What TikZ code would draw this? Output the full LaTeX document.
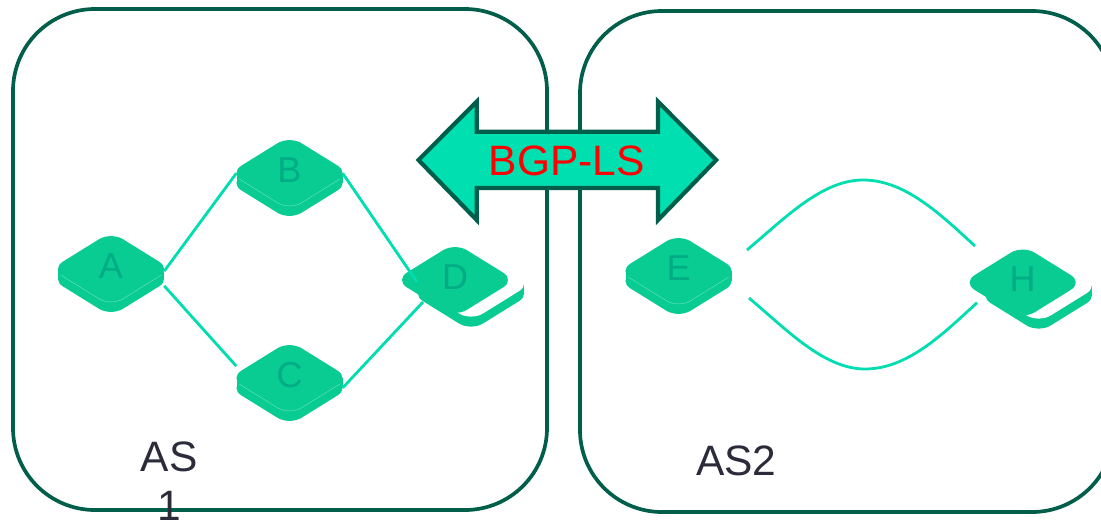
\documentclass[tikz,border=0pt]{standalone}
\usepackage{fontspec}
\setmainfont{Liberation Sans}
\definecolor{boxgreen}{HTML}{005E4B}
\definecolor{arrowgreen}{HTML}{00DFB0}
\definecolor{facegreen}{HTML}{08CC92}
\definecolor{linkgreen}{HTML}{00DDB0}
\definecolor{lettergreen}{HTML}{00AC85}
\definecolor{edgegreen}{HTML}{6FE3C2}
\definecolor{asgray}{HTML}{2B2B3A}
\tikzset{
  asbox/.style={draw=boxgreen, line width=3.7, rounded corners=82},
  aslabel/.style={text=asgray, font=\fontsize{42.5}{49}\selectfont, inner sep=0},
  routerlabel/.style={text=lettergreen, font=\fontsize{36}{40}\selectfont, minimum width=106, minimum height=66, inner sep=0},
  link/.style={draw=linkgreen, line width=2.8},
  routerface/.pic={\fill[rounded corners=14, #1] (-60,0) -- (0,-37.2) -- (60,0) -- (0,37.2) -- cycle;},
  routerbase/.pic={
    \fill[facegreen, rounded corners=14] (-60,10) -- (0,-27.2) -- (60,10) -- (0,47.2) -- cycle;
    \fill[facegreen] (-53,0) rectangle (53,10);
  },
  router/.pic={
    \pic {routerbase};
    \pic {routerface=facegreen};
    \draw[edgegreen, line width=0.4, rounded corners=14] (-50,6.2) -- (0,37.2) -- (50,6.2);
  },
  plate/.pic={
    \pic {routerbase};
    \pic {routerface=white};
  },
}
\begin{document}
\begin{tikzpicture}[x=1pt, y=-1pt]
\useasboundingbox (0,0) rectangle (1101,523);
\node[asbox, minimum width=534, minimum height=501] (as1) at (280,259.5) {};
\node[asbox, minimum width=534, minimum height=501] (as2) at (847,261.5) {};
% devices
\pic at (111,269) {router};
\pic at (289.5,173) {router};
\pic at (289.5,378) {router};
\pic at (471,283.7) {plate};
\pic at (455,280) {routerface=facegreen};
\pic at (678.5,271) {router};
\pic at (1038.7,285.7) {plate};
\pic at (1022.7,282.5) {routerface=facegreen};
\node[routerlabel] (A) at (111,266.5) {A};
\node[routerlabel] (B) at (289.5,170.5) {B};
\node[routerlabel] (C) at (289.5,375.5) {C};
\node[routerlabel] (D) at (455,277) {D};
\node[routerlabel] (E) at (678.5,268) {E};
\node[routerlabel] (H) at (1022.7,279.5) {H};
\coordinate (d1) at (417,282);
\coordinate (d2) at (423,302);
\coordinate (e1) at (747,250);
\coordinate (e2) at (749,298);
\coordinate (h1) at (975,246);
\coordinate (h2) at (977,302.7);
% links
\draw[link] (A.-5) -- (B.183);
\draw[link] (A.-20) -- (C.170);
\draw[link] (B.-3) -- (d1);
\draw[link] (C.-13) -- (d2);
\draw[link] (e1) .. controls (785,218) and (822,180) .. (863,180) .. controls (905,180) and (940,214) .. (h1);
\draw[link] (e2) .. controls (787,330) and (824,369) .. (865,369) .. controls (907,369) and (942,335) .. (h2);
% BGP-LS arrow
\draw[draw=boxgreen, fill=arrowgreen, line width=4.2, miter limit=10]
  (418.5,160) -- (476.7,101.7) -- (476.7,131.7) -- (658,131.7) -- (658,101.7)
  -- (716.2,160) -- (658,220) -- (658,188) -- (476.7,188) -- (476.7,220) -- cycle;
\node[text=red, font=\fontsize{42.5}{50}\selectfont, inner sep=0] (bgpls) at (566.7,160.7) {BGP-LS};
% labels
\node[aslabel, align=center, anchor=north] (as1label) at (169,442) {AS\\1};
\node[aslabel, anchor=west] (as2label) at (696,461) {AS2};
\end{tikzpicture}
\end{document}
